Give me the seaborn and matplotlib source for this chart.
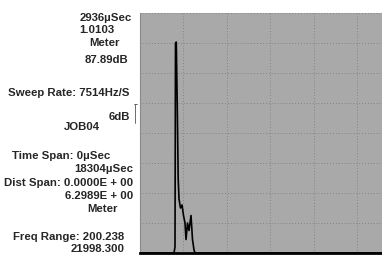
import numpy as np
import pandas as pd
import seaborn as sns
import matplotlib.pyplot as plt

# trace: time in microseconds, level in vertical divisions
time_us = [0, 1434, 1476, 1497, 1530, 1570, 1610, 1645, 1708, 1772, 1835,
           1898, 1940, 2003, 2067, 2151, 2214, 2278, 2320, 10206]
level_div = [0, 0, 0.2, 7.0, 7.03, 5.0, 2.5, 1.8, 1.5, 1.6, 1.25,
             1.0, 0.45, 1.0, 0.75, 1.25, 0.45, 0.1, 0, 0]

x_max = 10206          # visible part of the 18304 uSec span (10 div)
us_per_div = 1830.4
n_ydiv = 8

info_right = [
    ("2936\u00b5Sec", 18, 132),
    ("87.89dB", 60, 128),
    ("Sweep Rate: 7514Hz/S", 93, 130),
    ("6dB", 117, 130),
    ("18304\u00b5Sec", 169, 133),
    ("Dist Span: 0.0000E + 00", 183, 133),
    ("6.2989E + 00", 196, 133),
    ("21998.300", 249, 125),
]
info_left = [
    ("1.0103", 30, 79),
    ("Meter", 43, 89),
    ("JOB04", 127, 64),
    ("Time Span: 0\u00b5Sec", 156, 12),
    ("Meter", 209, 87),
    ("Freq Range: 200.238", 237, 13),
]

sns.set_style("white")
plt.rcParams['font.family'] = ['Liberation Sans', 'DejaVu Sans']

W, H = 382, 257
fig = plt.figure(figsize=(W / 100, H / 100), dpi=100)
ax = fig.add_axes([140 / W, 1 - 253 / H, 1 - 140 / W, 240 / H])
ax.set_facecolor('#a9a9a9')

df = pd.DataFrame({'t': time_us, 'lvl': level_div})
sns.lineplot(data=df, x='t', y='lvl', ax=ax, color='black', lw=1.2,
             sort=False, estimator=None)

ax.set_xlim(0, x_max)
ax.set_ylim(0, n_ydiv)
ax.set_xticks(np.arange(0, x_max, us_per_div))
ax.set_yticks(range(n_ydiv + 1))
ax.grid(True, color='#777777', linestyle=(0, (1, 2.5)), lw=0.6)
ax.tick_params(left=False, bottom=False, labelleft=False, labelbottom=False)
ax.set_xlabel('')
ax.set_ylabel('')
for s in ['top', 'right']:
    ax.spines[s].set_visible(False)
ax.spines['left'].set_color('#8a8a8a')
ax.spines['left'].set_linewidth(0.8)
ax.spines['bottom'].set_color('black')
ax.spines['bottom'].set_linewidth(2)

fs = 8.2
for txt, y, x in info_right:
    fig.text(x / W, 1 - y / H, txt, ha='right', va='center',
             fontsize=fs, fontweight='bold')
for txt, y, x in info_left:
    fig.text(x / W, 1 - y / H, txt, ha='left', va='center',
             fontsize=fs, fontweight='bold')

# small 6dB scale marker next to the plot
fig.add_artist(plt.Line2D([135 / W, 135 / W], [1 - 104 / H, 1 - 123 / H],
                          color='#555555', lw=0.6))
fig.add_artist(plt.Line2D([133.5 / W, 136.5 / W], [1 - 104 / H, 1 - 104 / H],
                          color='#555555', lw=0.6))

fig.savefig('out.png', dpi=100)
